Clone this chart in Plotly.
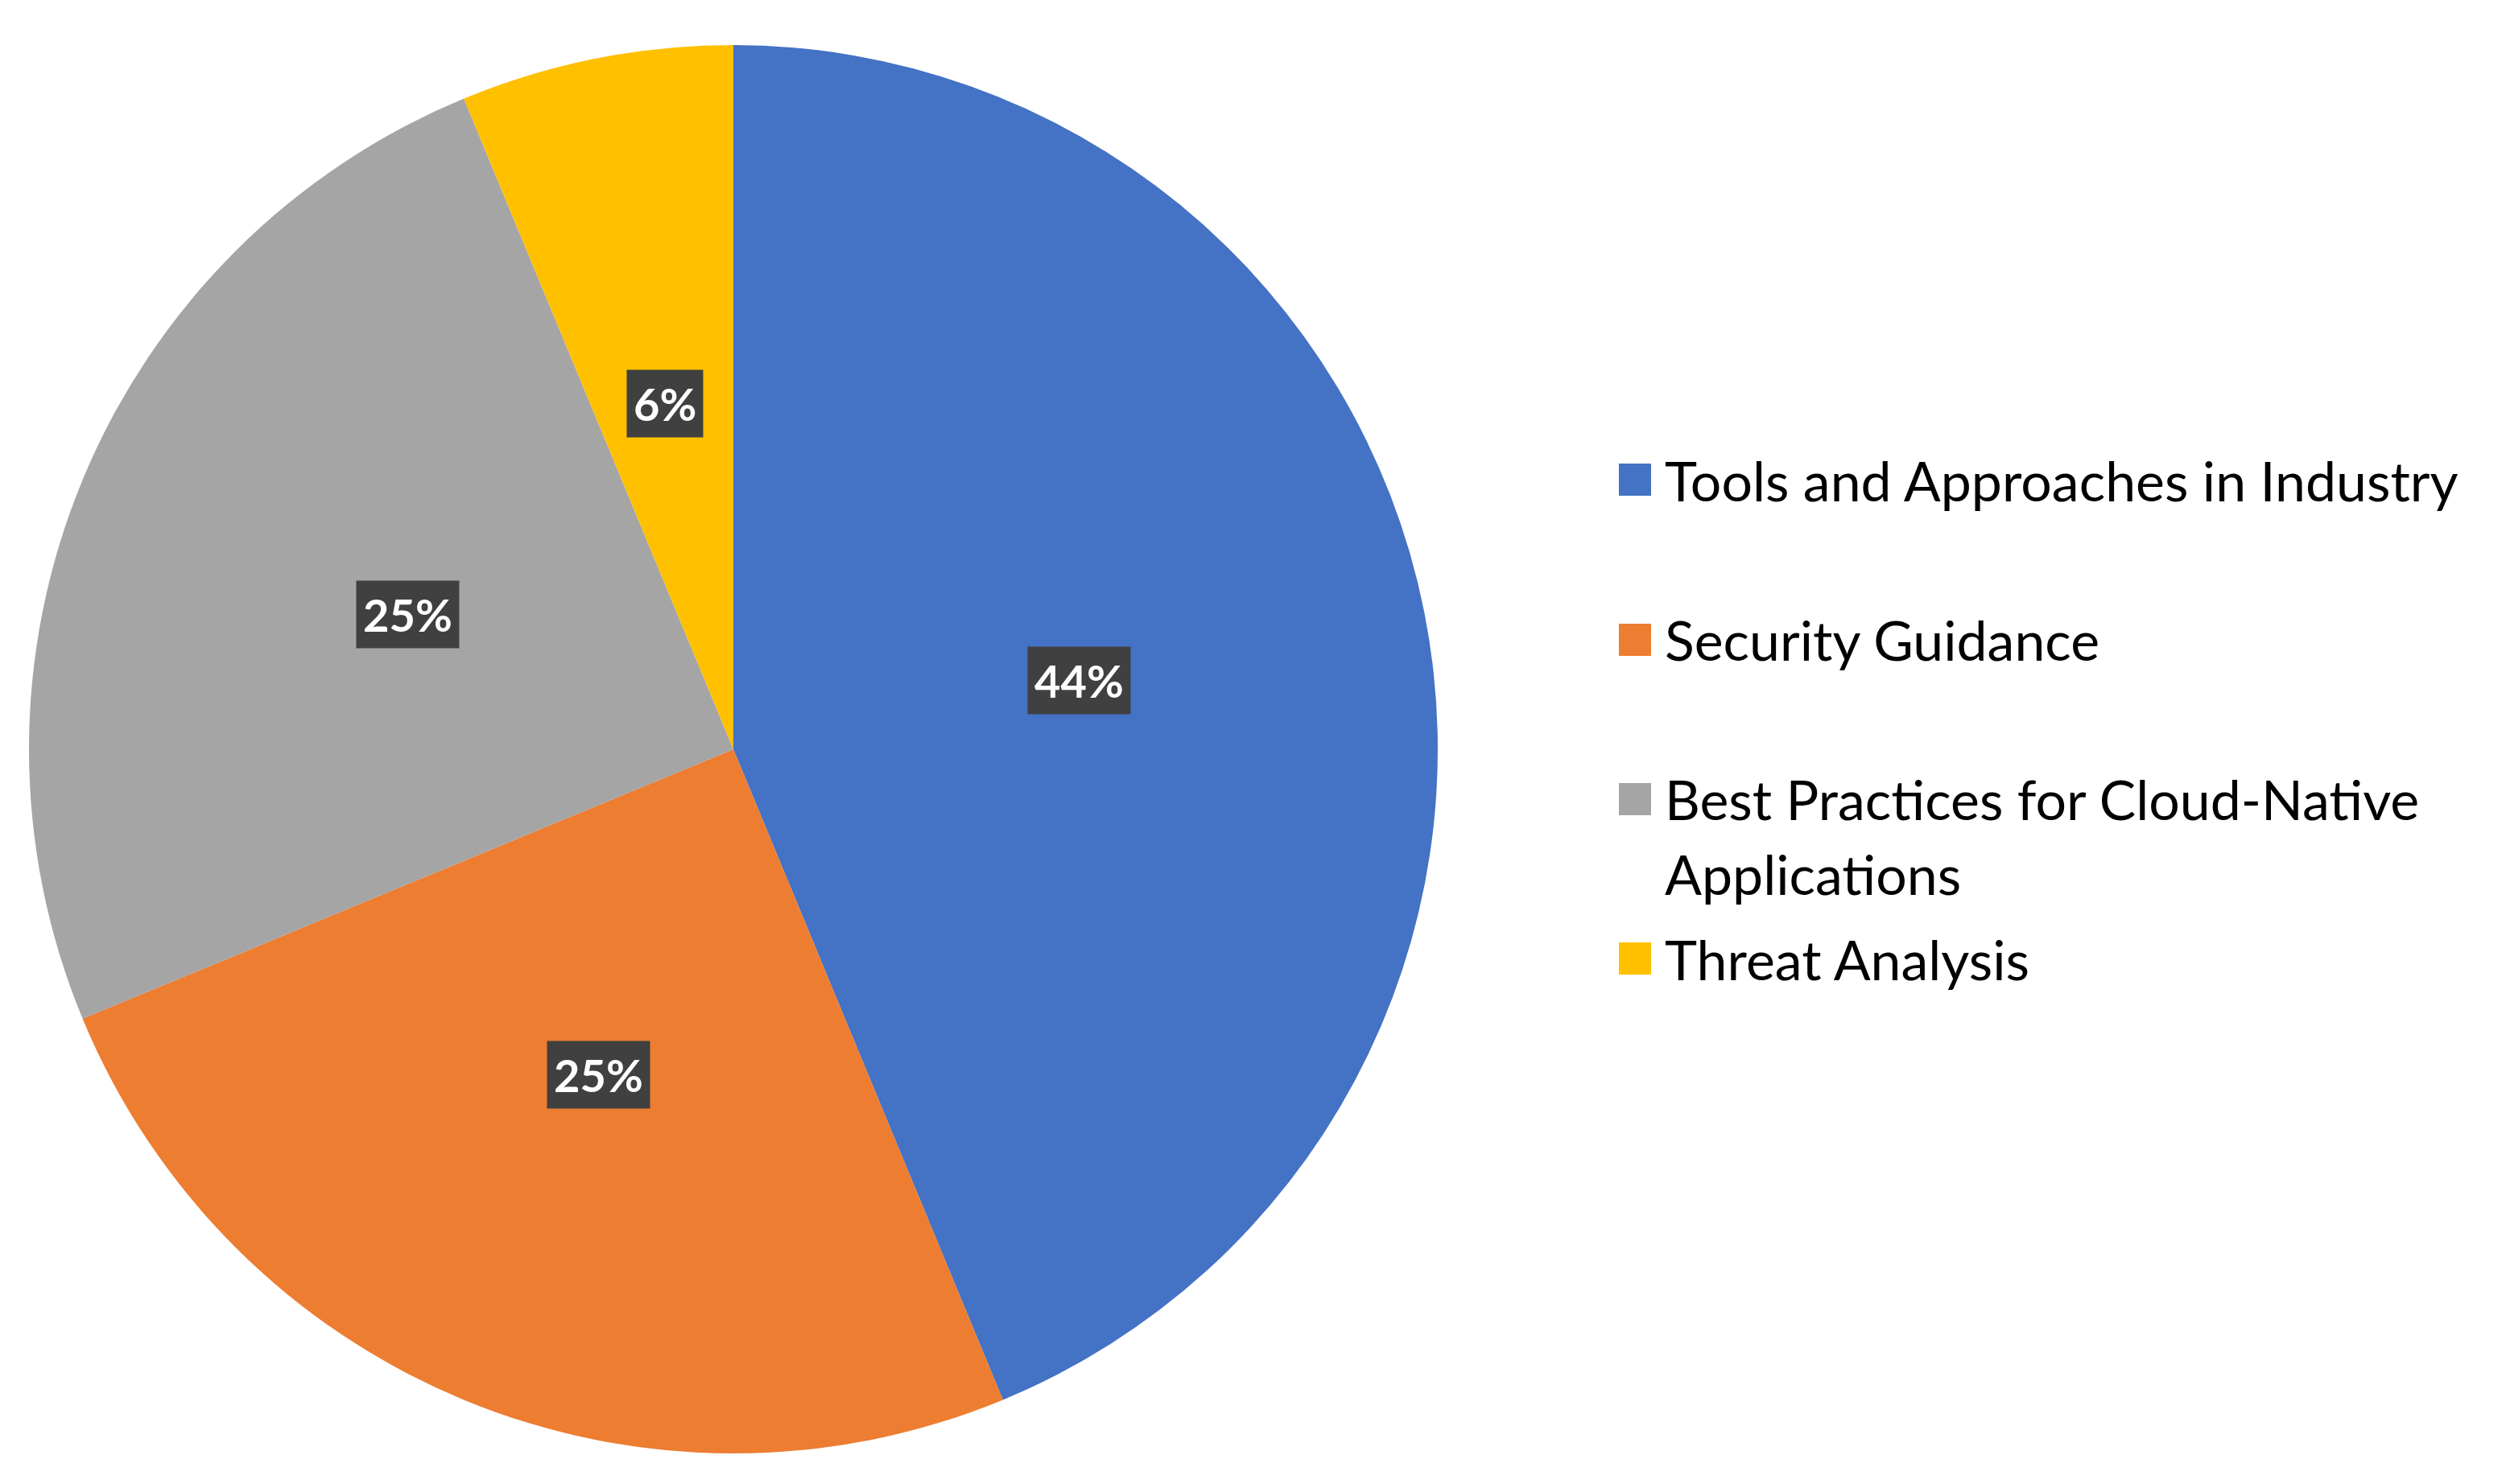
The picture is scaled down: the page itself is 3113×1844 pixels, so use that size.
import math
import plotly.graph_objects as go

categories = ["Tools and Approaches in Industry", "Security Guidance",
              "Best Practices for Cloud-Native Applications", "Threat Analysis"]
values = [43.75, 25.0, 25.0, 6.25]
pct_labels = ["44%", "25%", "25%", "6%"]
colors = ["#4472C4", "#ED7D31", "#A5A5A5", "#FFC000"]
legend_lines = [["Tools and Approaches in Industry"], ["Security Guidance"],
                ["Best Practices for Cloud-Native", "Applications"], ["Threat Analysis"]]

OFF = 8  # page body margin
W, H = 3113, 1844
cx, cy, R = 911 - OFF, 931 - OFF, 875  # pie centre / radius in pixels

fig = go.Figure(go.Pie(
    labels=categories, values=values, sort=False, direction="clockwise", rotation=0,
    marker=dict(colors=colors, line=dict(width=0)),
    textinfo="none", hoverinfo="label+percent", showlegend=False,
    domain=dict(x=[(cx - R) / W, (cx + R) / W], y=[1 - (cy + R) / H, 1 - (cy - R) / H]),
))

# data labels at half radius on each slice's mid-angle
total = sum(values)
cum = 0.0
for v, lab in zip(values, pct_labels):
    mid = (cum + v / 2) / total * 2 * math.pi
    cum += v
    px = cx + 0.5 * R * math.sin(mid)
    py = cy - 0.5 * R * math.cos(mid)
    fig.add_annotation(x=px / W, y=1 - py / H, xref="paper", yref="paper",
                       text=f"<b>{lab}</b>", showarrow=False,
                       font=dict(family="Lato, Open Sans, sans-serif", size=56, color="white"),
                       bgcolor="#404040", borderpad=8, xanchor="center", yanchor="middle")

# manual legend (Excel-style equal spacing)
row_y = [596 - OFF, 795 - OFF, 993 - OFF, 1191 - OFF]
line_gap = 92
sq = 40
for lines, col, ry in zip(legend_lines, colors, row_y):
    fig.add_shape(type="rect", xref="paper", yref="paper",
                  x0=(2011 - OFF) / W, x1=(2011 - OFF + sq) / W,
                  y0=1 - (ry + sq / 2) / H, y1=1 - (ry - sq / 2) / H,
                  fillcolor=col, line=dict(width=0))
    for i, t in enumerate(lines):
        fig.add_annotation(x=(2066 - OFF) / W, y=1 - (ry + i * line_gap) / H, xref="paper", yref="paper",
                           text=t, showarrow=False, xanchor="left", yanchor="middle",
                           font=dict(family="Lato, Open Sans, sans-serif", size=68, color="black"))

fig.update_layout(width=W, height=H, margin=dict(l=0, r=0, t=0, b=0),
                  paper_bgcolor="white", plot_bgcolor="white")
fig.write_html("out.html")
